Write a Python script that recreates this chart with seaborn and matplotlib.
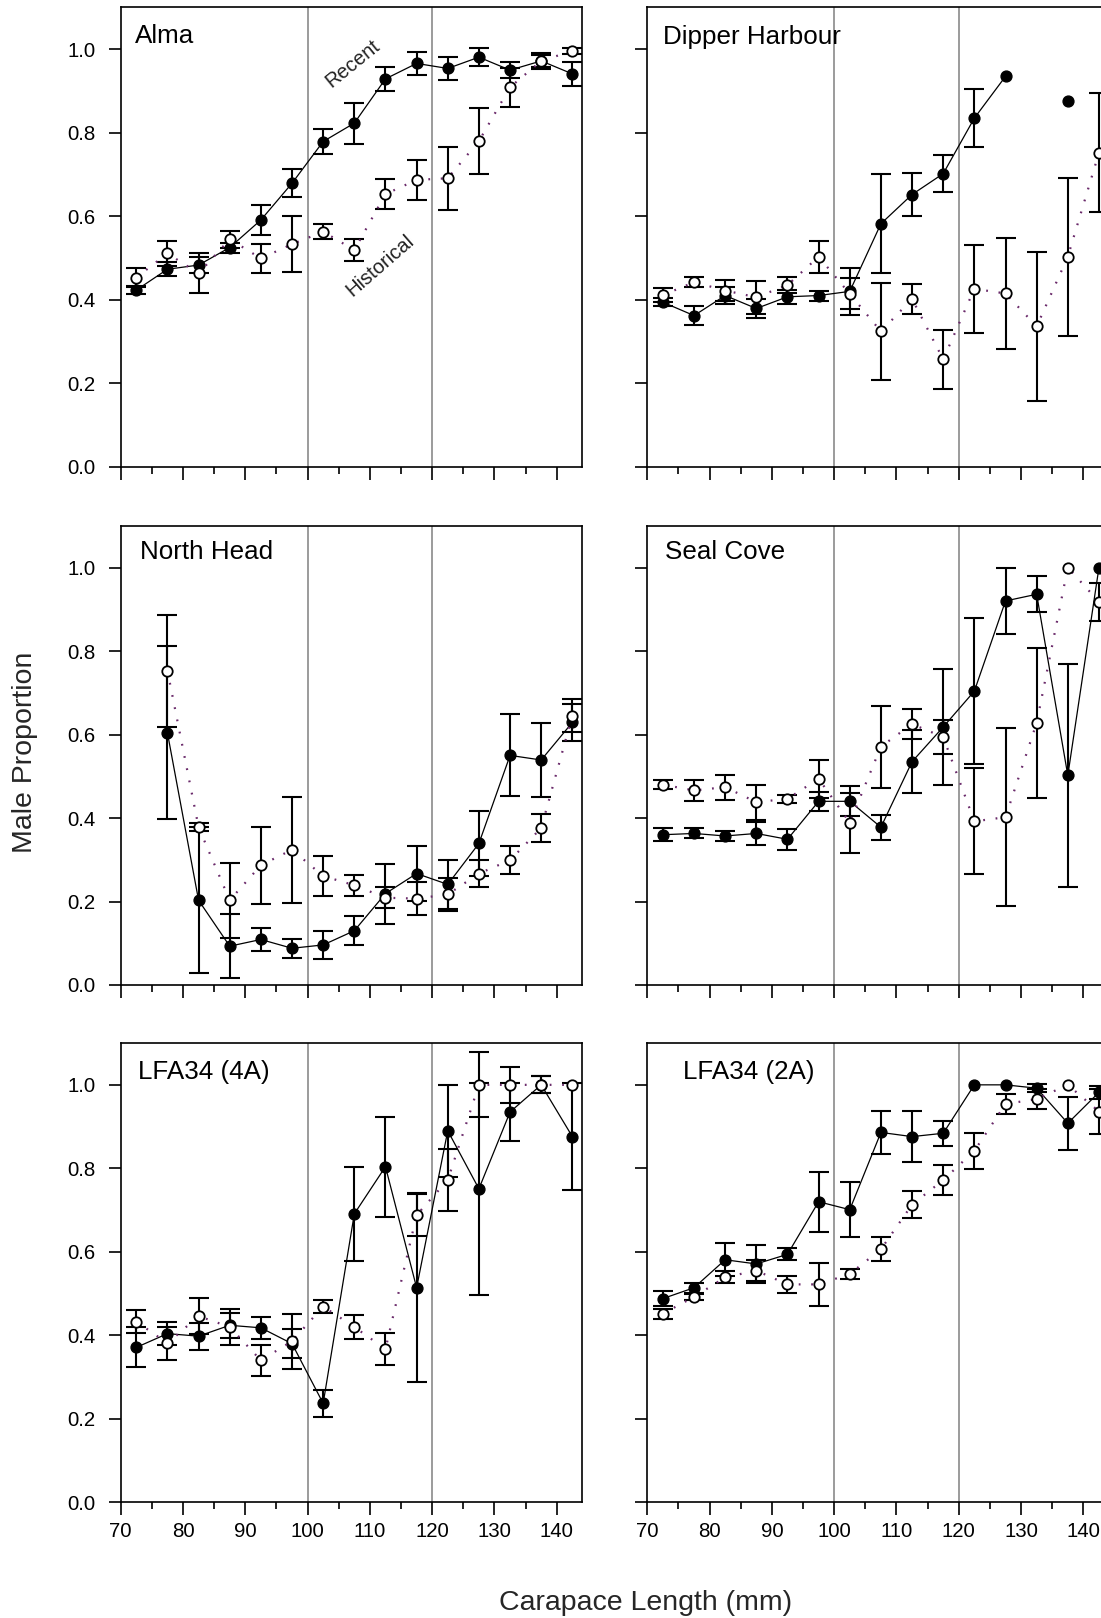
import numpy as np
import pandas as pd
import matplotlib
matplotlib.use("Agg")
import matplotlib.pyplot as plt
from matplotlib.ticker import MultipleLocator, FixedLocator
import seaborn as sns

# ---------------- data ----------------
sizes = [72.5, 77.5, 82.5, 87.5, 92.5, 97.5, 102.5, 107.5, 112.5, 117.5,
         122.5, 127.5, 132.5, 137.5, 142.5]
nan = np.nan

site_names = ["Alma", "Dipper Harbour", "North Head", "Seal Cove", "LFA34 (4A)", "LFA34 (2A)"]

alma_recent = [0.423, 0.473, 0.483, 0.525, 0.591, 0.679, 0.779, 0.823, 0.929, 0.966, 0.954, 0.981, 0.950, 0.972, 0.941]
alma_recent_err = [0.010, 0.017, 0.020, 0.012, 0.036, 0.034, 0.030, 0.049, 0.028, 0.027, 0.028, 0.022, 0.020, 0.020, 0.029]
alma_hist = [0.453, 0.511, 0.463, 0.545, 0.499, 0.533, 0.563, 0.519, 0.653, 0.687, 0.691, 0.780, 0.909, 0.972, 0.996]
alma_hist_err = [0.022, 0.030, 0.048, 0.020, 0.035, 0.067, 0.018, 0.026, 0.036, 0.047, 0.075, 0.080, 0.047, 0.015, 0.008]

dipper_recent = [0.394, 0.362, 0.410, 0.379, 0.407, 0.410, 0.420, 0.582, 0.652, 0.702, 0.835, 0.935, nan, 0.877, nan]
dipper_recent_err = [0.010, 0.023, 0.020, 0.023, 0.017, 0.012, 0.057, 0.118, 0.052, 0.045, 0.070, nan, nan, nan, nan]
dipper_hist = [0.411, 0.442, 0.422, 0.406, 0.435, 0.503, 0.414, 0.324, 0.402, 0.257, 0.426, 0.415, 0.336, 0.503, 0.752]
dipper_hist_err = [0.017, 0.012, 0.025, 0.040, 0.020, 0.038, 0.037, 0.116, 0.036, 0.070, 0.105, 0.132, 0.178, 0.189, 0.143]

north_recent = [nan, 0.604, 0.203, 0.093, 0.109, 0.088, 0.096, 0.130, 0.219, 0.267, 0.241, 0.339, 0.550, 0.539, 0.629]
north_recent_err = [nan, 0.207, 0.175, 0.076, 0.028, 0.023, 0.034, 0.035, 0.072, 0.066, 0.059, 0.078, 0.098, 0.088, 0.045]
north_hist = [nan, 0.753, 0.378, 0.203, 0.287, 0.324, 0.261, 0.239, 0.209, 0.207, 0.217, 0.267, 0.299, 0.376, 0.645]
north_hist_err = [nan, 0.134, 0.010, 0.090, 0.092, 0.127, 0.047, 0.025, 0.025, 0.040, 0.040, 0.032, 0.034, 0.034, 0.040]

seal_recent = [0.360, 0.363, 0.357, 0.363, 0.349, 0.440, 0.440, 0.378, 0.535, 0.618, 0.704, 0.920, 0.936, 0.502, 1.000]
seal_recent_err = [0.015, 0.012, 0.012, 0.027, 0.025, 0.023, 0.036, 0.030, 0.076, 0.140, 0.175, 0.078, 0.043, 0.268, nan]
seal_hist = [0.480, 0.466, 0.474, 0.438, 0.446, 0.494, 0.389, 0.571, 0.625, 0.594, 0.392, 0.402, 0.628, 1.000, 0.918]
seal_hist_err = [0.011, 0.026, 0.030, 0.042, 0.010, 0.045, 0.072, 0.098, 0.035, 0.040, 0.127, 0.213, 0.180, nan, 0.045]

lfa4a_recent = [0.371, 0.404, 0.398, 0.424, 0.418, 0.380, 0.237, 0.691, 0.804, 0.514, 0.890, 0.751, 0.935, 1.000, 0.876]
lfa4a_recent_err = [0.048, 0.028, 0.032, 0.030, 0.027, 0.034, 0.033, 0.112, 0.120, 0.227, 0.110, 0.254, 0.070, 0.020, 0.129]
lfa4a_hist = [0.433, 0.381, 0.446, 0.420, 0.340, 0.386, 0.469, 0.420, 0.367, 0.688, 0.772, 1.000, 1.000, 1.000, 1.000]
lfa4a_hist_err = [0.027, 0.039, 0.043, 0.042, 0.037, 0.066, 0.016, 0.028, 0.038, 0.050, 0.075, 0.078, 0.043, 0.020, nan]

lfa2a_recent = [0.488, 0.514, 0.581, 0.571, 0.594, 0.720, 0.701, 0.886, 0.876, 0.884, 1.000, 1.000, 0.992, 0.908, 0.982]
lfa2a_recent_err = [0.018, 0.012, 0.040, 0.045, 0.014, 0.072, 0.066, 0.051, 0.062, 0.030, nan, nan, 0.010, 0.064, 0.015]
lfa2a_hist = [0.452, 0.492, 0.539, 0.555, 0.522, 0.522, 0.547, 0.606, 0.713, 0.772, 0.842, 0.954, 0.966, 1.000, 0.936]
lfa2a_hist_err = [0.012, 0.008, 0.014, 0.025, 0.021, 0.052, 0.011, 0.029, 0.032, 0.035, 0.043, 0.023, 0.025, nan, 0.054]

panels = [
    (alma_recent, alma_recent_err, alma_hist, alma_hist_err),
    (dipper_recent, dipper_recent_err, dipper_hist, dipper_hist_err),
    (north_recent, north_recent_err, north_hist, north_hist_err),
    (seal_recent, seal_recent_err, seal_hist, seal_hist_err),
    (lfa4a_recent, lfa4a_recent_err, lfa4a_hist, lfa4a_hist_err),
    (lfa2a_recent, lfa2a_recent_err, lfa2a_hist, lfa2a_hist_err),
]

# ---------------- style ----------------
sns.set_style("ticks")
plt.rcParams["font.family"] = ["Liberation Sans", "DejaVu Sans"]
plt.rcParams["axes.edgecolor"] = "black"
plt.rcParams["axes.linewidth"] = 1.2
plt.rcParams["xtick.color"] = "black"
plt.rcParams["ytick.color"] = "black"

W, H = 1101, 1618
fig = plt.figure(figsize=(W / 100, H / 100), dpi=100)

col_left = [120.7 / W, 647.3 / W]
ax_w = 461.0 / W
row_bottom = [1 - 466.7 / H, 1 - 985.0 / H, 1 - 1502.3 / H]
ax_h = 459.2 / H

title_pos = [(0.031, 0.937), (0.035, 0.936), (0.042, 0.943),
             (0.0385, 0.942), (0.038, 0.938), (0.078, 0.938)]

hist_color = "#6a2a6a"


def segments(y):
    s = pd.Series(y)
    return s.isna().cumsum().values


for i, (rec, rec_err, his, his_err) in enumerate(panels):
    r, c = divmod(i, 2)
    ax = fig.add_axes([col_left[c], row_bottom[r], ax_w, ax_h])

    ax.axvline(100, color="#8a8a8a", lw=1.2, zorder=1)
    ax.axvline(120, color="#8a8a8a", lw=1.2, zorder=1)

    x = np.array(sizes)
    for yv, ev in ((rec, rec_err), (his, his_err)):
        yv = np.array(yv, dtype=float)
        ev = np.array(ev, dtype=float)
        m = ~np.isnan(yv) & ~np.isnan(ev)
        ax.errorbar(x[m], yv[m], yerr=ev[m], fmt="none", ecolor="black",
                    elinewidth=1.5, capsize=7, capthick=1.5, zorder=2)

    df_r = pd.DataFrame({"size": sizes, "prop": rec, "seg": segments(rec)}).dropna()
    sns.lineplot(data=df_r, x="size", y="prop", units="seg", estimator=None,
                 sort=False, color="black", lw=0.9, marker="o", markersize=7.8,
                 markerfacecolor="black", mec="black", mew=1.0,
                 ax=ax, zorder=3, legend=False)

    df_h = pd.DataFrame({"size": sizes, "prop": his, "seg": segments(his)}).dropna()
    sns.lineplot(data=df_h, x="size", y="prop", units="seg", estimator=None,
                 sort=False, color=hist_color, lw=1.6, linestyle=(0, (0.8, 4.8)),
                 marker="o", markersize=7.5, markerfacecolor="white",
                 mec="black", mew=1.3, ax=ax, zorder=4, legend=False)

    ax.set_xlim(70, 144)
    ax.set_ylim(0, 1.1)
    ax.set_xlabel("")
    ax.set_ylabel("")
    ax.xaxis.set_major_locator(FixedLocator(list(range(70, 141, 10))))
    ax.xaxis.set_minor_locator(MultipleLocator(5))
    ax.yaxis.set_major_locator(FixedLocator([0.0, 0.2, 0.4, 0.6, 0.8, 1.0]))
    ax.yaxis.set_major_formatter(plt.FuncFormatter(lambda v, p: f"{v:.1f}"))
    ax.tick_params(axis="both", which="major", direction="out", length=9,
                   width=1.2, labelsize=14.7)
    ax.tick_params(axis="x", which="minor", direction="out", length=5, width=1.2)
    ax.tick_params(axis="y", which="minor", left=False)
    ax.tick_params(axis="y", pad=9)
    ax.tick_params(axis="x", pad=5)
    for sp in ax.spines.values():
        sp.set_visible(True)
        sp.set_linewidth(1.2)
        sp.set_color("black")
    if c == 1:
        ax.tick_params(axis="y", labelleft=False)
    if r < 2:
        ax.tick_params(axis="x", labelbottom=False)

    tx, ty = title_pos[i]
    ax.text(tx, ty, site_names[i], transform=ax.transAxes, fontsize=18.7,
            ha="left", va="center", color="black")

    if i == 0:
        ax.text(107.2, 0.966, "Recent", rotation=39, rotation_mode="anchor",
                ha="center", va="center", fontsize=14.5, color="#222222")
        ax.text(111.7, 0.482, "Historical", rotation=41, rotation_mode="anchor",
                ha="center", va="center", fontsize=14.5, color="#222222")

fig.text(25 / W, 1 - 752 / H, "Male Proportion", rotation=90, fontsize=20.5,
         ha="center", va="center")
fig.text(646 / W, 1 - 1603 / H, "Carapace Length (mm)", fontsize=20.5,
         ha="center", va="center")

fig.savefig("out.png", dpi=100)
